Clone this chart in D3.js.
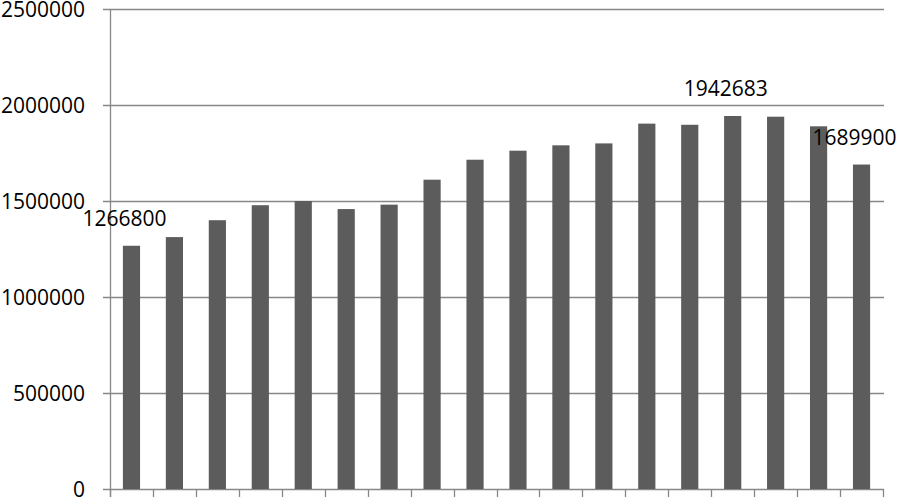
<!DOCTYPE html>
<html><head><meta charset="utf-8">
<script src="https://cdn.jsdelivr.net/npm/d3@7"></script>
<style>
html,body{margin:0;padding:0;background:#fff;}
svg{display:block;}
text{font-family:"Open Sans",sans-serif;}
</style></head>
<body>
<script>
const categories = ["1","2","3","4","5","6","7","8","9","10","11","12","13","14","15","16","17","18"];
const values = [1266800,1312000,1400000,1478000,1500000,1458000,1481000,1611000,1715000,1762000,1790000,1800000,1903000,1897000,1942683,1939000,1889000,1689900];
const yTicks = [0,500000,1000000,1500000,2000000,2500000];
const labelled = {0:"1266800",14:"1942683",17:"1689900"};

(function(){
const W=898,H=498, mL=110, mR=883, mT=9, mB=489;
const svg=d3.select("body").append("svg").attr("width",W).attr("height",H);

const x=d3.scaleBand().domain(categories).range([mL,mR]).paddingInner(0.6).paddingOuter(0.3);
const xb=d3.scaleBand().domain(categories).range([mL,mR]).padding(0);
const y=d3.scaleLinear().domain([0,2500000]).range([mB,mT]);

svg.append("g").selectAll("line").data(yTicks).join("line")
 .attr("x1",mL-7).attr("x2",mR+1)
 .attr("y1",d=>Math.round(y(d))+0.5).attr("y2",d=>Math.round(y(d))+0.5)
 .attr("stroke","#878787").attr("stroke-width",1.3);

svg.append("line").attr("x1",mL+0.5).attr("x2",mL+0.5).attr("y1",mT).attr("y2",mB+8)
 .attr("stroke","#878787").attr("stroke-width",1.3);

const bounds=categories.map(c=>xb(c)).concat([mR]);
svg.append("g").selectAll("line").data(bounds).join("line")
 .attr("x1",d=>Math.round(d)+0.5).attr("x2",d=>Math.round(d)+0.5)
 .attr("y1",mB).attr("y2",mB+8)
 .attr("stroke","#878787").attr("stroke-width",1.3);

svg.append("g").selectAll("rect").data(values).join("rect")
 .attr("x",(d,i)=>x(categories[i])).attr("width",x.bandwidth())
 .attr("y",d=>y(d)).attr("height",d=>y(0)-y(d))
 .attr("fill","#5c5c5c");

svg.append("g").selectAll("text").data(yTicks).join("text")
 .attr("x",85).attr("y",d=>y(d)).attr("dy","0.36em")
 .attr("text-anchor","end").attr("font-size",21).attr("fill","#000")
 .text(d=>d);

svg.append("g").selectAll("text").data(Object.keys(labelled)).join("text")
 .attr("x",i=>x(categories[i])+x.bandwidth()/2-7)
 .attr("y",i=>y(values[i])-20)
 .attr("text-anchor","middle").attr("font-size",21).attr("fill","#000")
 .text(i=>labelled[i]);
})();
</script>
</body></html>
